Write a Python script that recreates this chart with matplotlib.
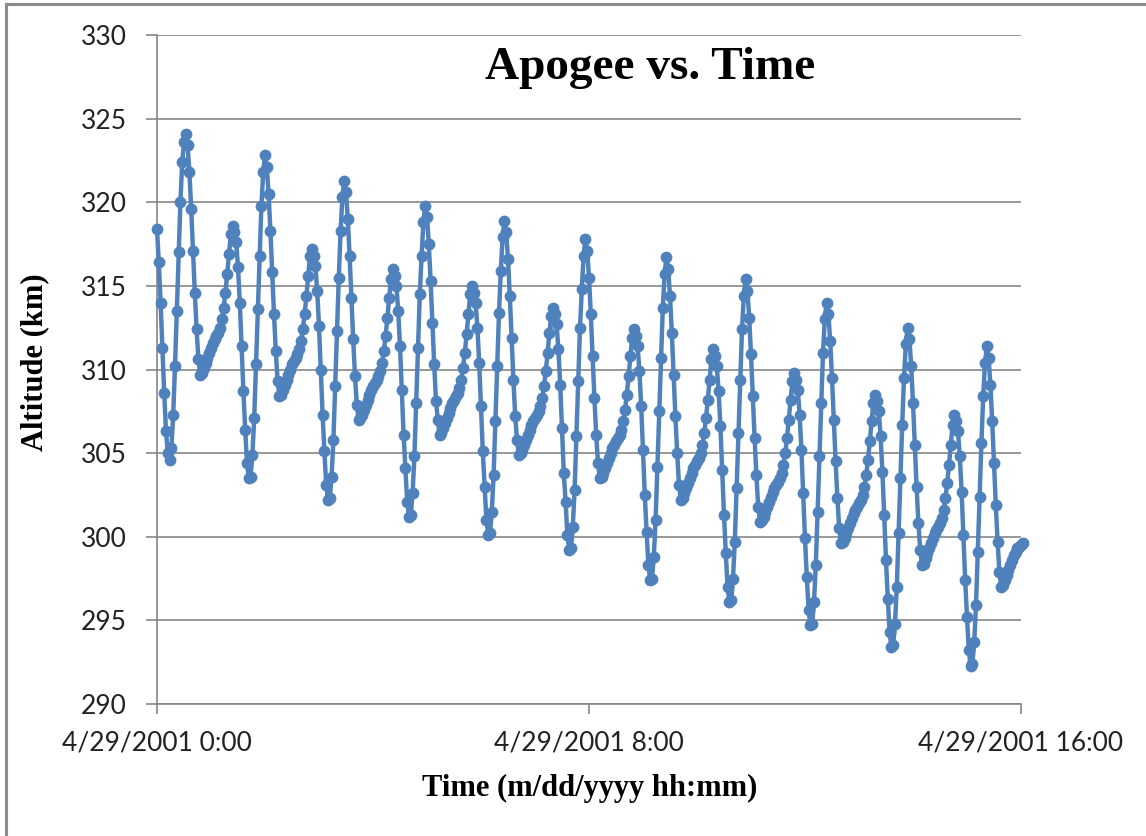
import numpy as np
import matplotlib
matplotlib.use("Agg")
import matplotlib.pyplot as plt
from matplotlib.lines import Line2D

# apogee altitude (km), one sample every 2 minutes from 4/29/2001 0:00
start_seg = [318.4, 316.4, 314.0, 311.3, 308.6, 306.3, 305.0, 304.6, 305.3, 307.3,
             310.2, 313.5, 317.0, 320.0, 322.4, 323.6, 324.1]
orbit1 = [323.4, 321.8, 319.6, 317.1, 314.6, 312.4, 310.6, 309.7,
          309.8, 310.1, 310.4, 310.7, 311.0, 311.3, 311.6, 311.8, 312.0, 312.2, 312.5, 313.0,
          313.7, 314.6, 315.7, 316.9, 318.1, 318.6,
          318.2, 317.6, 316.1, 314.0, 311.4, 308.7, 306.4, 304.4, 303.5,
          303.6, 304.9, 307.1, 310.3, 313.6, 316.8, 319.8, 321.8, 322.8]
orbit2 = [322.1, 320.5, 318.3, 315.8, 313.3, 311.1, 309.3, 308.4,
          308.5, 308.8, 309.1, 309.4, 309.7, 310.0, 310.3, 310.5, 310.7, 310.9, 311.2, 311.7,
          312.4, 313.3, 314.4, 315.6, 316.8, 317.2,
          316.8, 316.2, 314.7, 312.6, 310.0, 307.3, 305.1, 303.1, 302.2,
          302.3, 303.6, 305.8, 309.0, 312.3, 315.5, 318.3, 320.3, 321.3]
orbit3 = [320.6, 319.0, 316.8, 314.3, 311.8, 309.6, 307.9, 307.0,
          307.1, 307.3, 307.6, 307.9, 308.2, 308.5, 308.8, 309.0, 309.2, 309.4, 309.6, 309.9,
          310.4, 311.1, 312.0, 313.1, 314.3, 315.4, 316.0,
          315.6, 315.0, 313.5, 311.4, 308.8, 306.1, 304.1, 302.1, 301.2,
          301.3, 302.6, 304.8, 308.0, 311.3, 314.5, 316.8, 318.8, 319.8]
orbit4 = [319.1, 317.5, 315.3, 312.8, 310.3, 308.1, 307.0, 306.1,
          306.2, 306.5, 306.8, 307.1, 307.4, 307.7, 308.0, 308.2, 308.4, 308.6, 308.9, 309.4,
          310.1, 311.0, 312.1, 313.3, 314.5, 315.0,
          314.6, 314.0, 312.5, 310.4, 307.8, 305.1, 303.0, 301.0, 300.1,
          300.2, 301.5, 303.7, 306.9, 310.2, 313.4, 315.9, 317.9, 318.9]
orbit5 = [318.2, 316.6, 314.4, 311.9, 309.4, 307.2, 305.8, 304.9,
          305.0, 305.2, 305.5, 305.8, 306.1, 306.4, 306.7, 306.9, 307.1, 307.3, 307.5, 307.8,
          308.3, 309.0, 309.9, 311.0, 312.2, 313.2, 313.7,
          313.3, 312.7, 311.2, 309.1, 306.5, 303.8, 302.1, 300.1, 299.2,
          299.3, 300.6, 302.8, 306.0, 309.3, 312.5, 314.8, 316.8, 317.8]
orbit6 = [317.1, 315.5, 313.3, 310.8, 308.3, 306.1, 304.4, 303.5,
          303.6, 303.8, 304.1, 304.4, 304.7, 305.0, 305.3, 305.5, 305.7, 305.9, 306.1, 306.4,
          306.9, 307.6, 308.5, 309.6, 310.8, 311.9, 312.4,
          312.0, 311.4, 309.9, 307.8, 305.2, 302.5, 300.3, 298.3, 297.4,
          297.5, 298.8, 301.0, 304.2, 307.5, 310.7, 313.7, 315.7, 316.7]
orbit7 = [316.0, 314.4, 312.2, 309.7, 307.2, 305.0, 303.1, 302.2,
          302.3, 302.6, 302.9, 303.2, 303.5, 303.8, 304.1, 304.3, 304.5, 304.7, 305.0, 305.5,
          306.2, 307.1, 308.2, 309.4, 310.6, 311.2,
          310.8, 310.2, 308.7, 306.6, 304.0, 301.3, 299.0, 297.0, 296.1,
          296.2, 297.5, 299.7, 302.9, 306.2, 309.4, 312.4, 314.4, 315.4]
orbit8 = [314.7, 313.1, 310.9, 308.4, 305.9, 303.7, 301.8, 300.9,
          301.0, 301.2, 301.5, 301.8, 302.1, 302.4, 302.7, 302.9, 303.1, 303.3, 303.5, 303.8,
          304.3, 305.0, 305.9, 307.0, 308.2, 309.3, 309.8,
          309.4, 308.8, 307.3, 305.2, 302.6, 299.9, 297.6, 295.6, 294.7,
          294.8, 296.1, 298.3, 301.5, 304.8, 308.0, 311.0, 313.0, 314.0]
orbit9 = [313.3, 311.7, 309.5, 307.0, 304.5, 302.3, 300.5, 299.6,
          299.7, 299.9, 300.2, 300.5, 300.8, 301.1, 301.4, 301.6, 301.8, 302.0, 302.2, 302.5,
          303.0, 303.7, 304.6, 305.7, 306.9, 308.0, 308.5,
          308.1, 307.5, 306.0, 303.9, 301.3, 298.6, 296.3, 294.3, 293.4,
          293.5, 294.8, 297.0, 300.2, 303.5, 306.7, 309.5, 311.5, 312.5]
orbit10 = [311.8, 310.2, 308.0, 305.5, 303.0, 300.8, 299.2, 298.3,
           298.4, 298.7, 299.0, 299.3, 299.6, 299.9, 300.2, 300.4, 300.6, 300.8, 301.1, 301.6,
           302.3, 303.2, 304.3, 305.5, 306.7, 307.3,
           306.9, 306.3, 304.8, 302.7, 300.1, 297.4, 295.2, 293.2, 292.3,
           292.4, 293.7, 295.9, 299.1, 302.4, 305.6, 308.4, 310.4, 311.4]
end_seg = [310.7, 309.1, 306.9, 304.4, 301.9, 299.7, 297.9, 297.0,
           297.1, 297.4, 297.7, 298.0, 298.3, 298.6, 298.9, 299.1, 299.3, 299.4, 299.5, 299.6]

altitude = np.array(start_seg + orbit1 + orbit2 + orbit3 + orbit4 + orbit5 + orbit6
                    + orbit7 + orbit8 + orbit9 + orbit10 + end_seg)
step_min = 2
hours = np.arange(len(altitude)) * step_min / 60.0

x_ticks = [0, 8, 16]
x_labels = ["4/29/2001 0:00", "4/29/2001 8:00", "4/29/2001 16:00"]
y_ticks = [290, 295, 300, 305, 310, 315, 320, 325, 330]

blue = "#4F81BD"
grey = "#868686"
serif = "Liberation Serif"
sans = "Lato"

W, H = 1146, 836
fig = plt.figure(figsize=(W / 100, H / 100), dpi=100)
ax = fig.add_axes([157 / W, 1 - 704 / H, (1021 - 157) / W, (704 - 35) / H])

ax.plot(hours, altitude, color=blue, lw=3.2, marker="o", ms=8.5,
        markeredgewidth=0, clip_on=False, zorder=3)

ax.set_xlim(0, 16)
ax.set_ylim(290, 330)
ax.set_xticks(x_ticks)
ax.set_xticklabels(x_labels)
ax.set_yticks(y_ticks)
ax.grid(axis="y", color=grey, lw=1.2)
ax.set_axisbelow(True)
for s in ["top", "right"]:
    ax.spines[s].set_visible(False)
for s in ["left", "bottom"]:
    ax.spines[s].set_color(grey)
    ax.spines[s].set_linewidth(1.2)
ax.tick_params(axis="y", direction="out", length=8, width=1.2, color=grey, pad=14,
               labelsize=19)
ax.tick_params(axis="x", direction="out", length=7, width=1.2, color=grey, pad=12,
               labelsize=19)
for lab in ax.get_xticklabels() + ax.get_yticklabels():
    lab.set_family(sans)
    lab.set_color("#222222")

fig.text(650 / W, 1 - 68 / H, "Apogee vs. Time", ha="center", va="center",
         fontsize=34, family=serif, weight="bold")
fig.text(590 / W, 1 - 788 / H, "Time (m/dd/yyyy hh:mm)", ha="center", va="center",
         fontsize=22, family=serif, weight="bold")
fig.text(35 / W, 1 - 362 / H, "Altitude (km)", ha="center", va="center",
         rotation=90, fontsize=22, family=serif, weight="bold")

# chart area border (only left and top edges visible in the original crop)
fig.add_artist(Line2D([6 / W, 6 / W], [0, 1 - 4 / H], color="#8c8c8c", lw=2.2,
                      transform=fig.transFigure))
fig.add_artist(Line2D([6 / W, 1], [1 - 4 / H, 1 - 4 / H], color="#8c8c8c", lw=2.2,
                      transform=fig.transFigure))

fig.savefig("out.png", dpi=100)
